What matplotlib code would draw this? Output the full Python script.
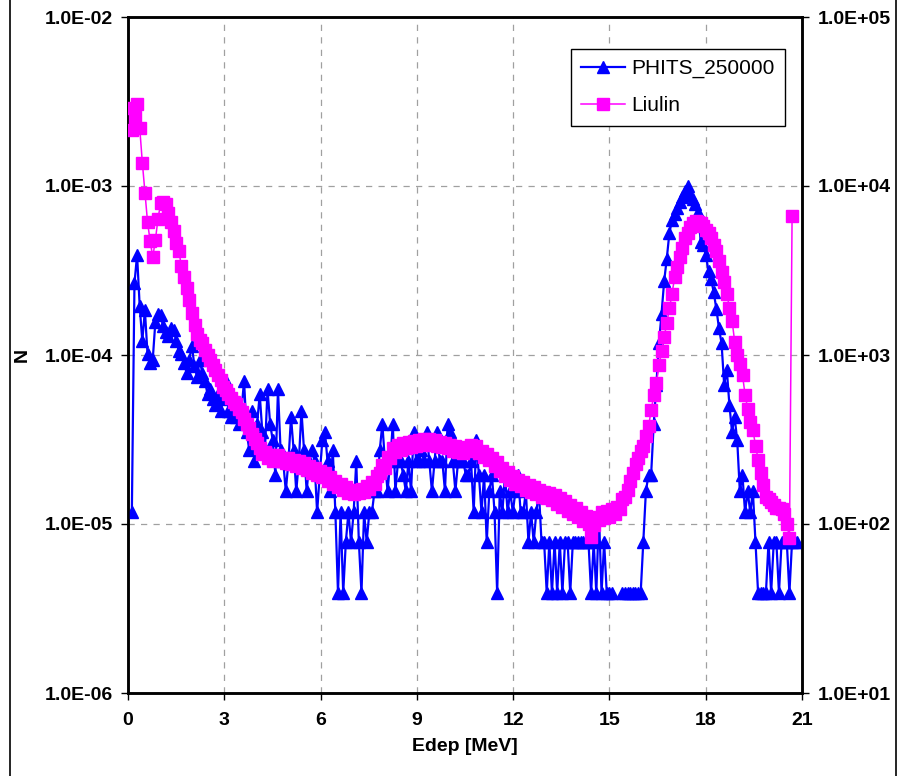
import numpy as np
import matplotlib.pyplot as plt
from matplotlib.lines import Line2D

plt.rcParams['font.family'] = ['Liberation Sans', 'DejaVu Sans']

# PHITS_250000: counts per 0.0813 MeV bin, N = counts / 256000
phits_counts = [
    3, 68, 100, 50, 31, 47, 26, 23, 24, 40,
    45, 44, 38, 35, 33, 37, 36, 31, 27, 26,
    23, 20, 24, 29, 22, 19, 24, 20, 18, 15,
    16, 14, 13, 15, 12, 14, 18, 12, 11, 13,
    11, 10, 12, 18, 9, 7, 12, 6, 10, 15,
    9, 7, 16, 10, 8, 5, 16, 7, 6, 4,
    6, 11, 7, 4, 6, 12, 7, 4, 6, 7,
    6, 3, 5, 8, 9, 6, 4, 7, 3, 1,
    3, 1, 2, 3, 2, 3, 6, 2, 1, 3,
    2, 3, 3, 4, 4, 7, 10, 6, 4, 6,
    10, 4, 6, 6, 5, 4, 6, 4, 9, 6,
    6, 7, 6, 9, 6, 4, 6, 9, 6, 6,
    4, 10, 9, 6, 4, 6, 6, 6, 5, 5,
    6, 3, 8, 5, 3, 5, 2, 4, 5, 3,
    1, 4, 3, 5, 3, 4, 3, 4, 5, 3,
    3, 4, 2, 3, 2, 3, 4, 2, 2, 1,
    2, 1, 2, 1, 2, 1, 2, 2, 1, 2,
    2, 2, 2, 2, 2, 2, 1, 2, 1, 3,
    1, 2, 1, 1, 1, 0, 0, 0, 1, 1,
    1, 1, 1, 1, 1, 1, 2, 4, 5, 5,
    10, 17, 30, 45, 70, 95, 135, 160, 175, 190,
    205, 220, 240, 256, 225, 215, 200, 180, 120, 115,
    100, 80, 72, 60, 48, 37, 30, 17, 21, 13,
    9, 11, 8, 4, 5, 3, 4, 3, 4, 2,
    1, 1, 1, 1, 2, 1, 2, 2, 1, 2,
    2, 2, 1, 2, 2, 2,
]
phits_norm = 256000.0

# Liulin: counts per channel (right axis)
liulin_counts = [
    29000, 21500, 25500, 30500, 22000, 13700, 9100, 6100, 4700, 3800,
    4800, 6400, 7900, 8000, 7800, 6900, 6150, 5400, 4600, 4100,
    3350, 2900, 2480, 2120, 1770, 1510, 1340, 1230, 1170, 1070,
    1000, 930, 870, 810, 760, 710, 650, 620, 590, 560,
    530, 510, 480, 460, 420, 390, 370, 340, 320, 300,
    280, 260, 265, 245, 255, 235, 250, 255, 235, 245,
    230, 245, 225, 240, 220, 235, 215, 230, 210, 220,
    200, 215, 195, 205, 190, 200, 180, 190, 172, 180,
    165, 172, 158, 165, 152, 160, 150, 158, 152, 162,
    155, 168, 162, 178, 172, 192, 200, 222, 215, 250,
    245, 280, 265, 292, 275, 300, 280, 305, 285, 310,
    290, 315, 295, 318, 300, 320, 295, 312, 290, 305,
    285, 300, 280, 295, 272, 290, 268, 285, 262, 280,
    272, 295, 278, 290, 262, 270, 248, 258, 238, 245,
    220, 232, 205, 215, 192, 202, 182, 192, 172, 182,
    168, 178, 160, 170, 155, 165, 150, 160, 145, 155,
    142, 152, 138, 148, 132, 142, 126, 136, 120, 130,
    115, 124, 110, 118, 104, 112, 100, 84, 98, 110,
    105, 118, 108, 120, 110, 122, 115, 126, 122, 140,
    145, 160, 180, 200, 225, 245, 270, 290, 330, 380,
    470, 580, 680, 870, 1050, 1280, 1550, 1900, 2300, 2900,
    3300, 3800, 4300, 4900, 5300, 5700, 6000, 6200, 6150, 6000,
    5800, 5500, 5300, 4900, 4500, 4100, 3600, 3100, 2700, 2300,
    1900, 1600, 1200, 1000, 880, 760, 580, 480, 400, 360,
    290, 240, 200, 170, 145, 140, 135, 130, 125, 125,
    122, 115, 100, 83, 6600,
]

bin_width = 0.0813  # MeV
phits_e = 0.12 + bin_width * np.arange(len(phits_counts))
liulin_e = bin_width * (np.arange(len(liulin_counts)) + 0.5)

phits_n = np.array(phits_counts, dtype=float) / phits_norm
phits_n[phits_n == 0] = np.nan

x_ticks = [0, 3, 6, 9, 12, 15, 18, 21]
left_ticks = [1e-6, 1e-5, 1e-4, 1e-3, 1e-2]
left_labels = ['1.0E-06', '1.0E-05', '1.0E-04', '1.0E-03', '1.0E-02']
right_ticks = [1e1, 1e2, 1e3, 1e4, 1e5]
right_labels = ['1.0E+01', '1.0E+02', '1.0E+03', '1.0E+04', '1.0E+05']

fig = plt.figure(figsize=(8.99, 7.76), dpi=100)
ax = fig.add_axes([128 / 899, 1 - 693 / 776, 674 / 899, 676 / 776])
ax2 = ax.twinx()

blue = '#0000FF'
pink = '#FF00FF'

ax.plot(phits_e, phits_n, color=blue, lw=1.6, marker='^', ms=9,
        mec=blue, mfc=blue, zorder=3)
ax2.plot(liulin_e, liulin_counts, color=pink, lw=1.1, marker='s', ms=8,
         mec=pink, mfc=pink, zorder=3)

ax.set_yscale('log')
ax2.set_yscale('log')
ax.set_xlim(0, 21)
ax.set_ylim(1e-6, 1e-2)
ax2.set_ylim(1e1, 1e5)

ax.set_xticks(x_ticks)
ax.set_xticklabels([str(t) for t in x_ticks])
ax.set_yticks(left_ticks)
ax.set_yticklabels(left_labels)
ax.yaxis.set_minor_locator(plt.NullLocator())
ax2.set_yticks(right_ticks)
ax2.set_yticklabels(right_labels)
ax2.yaxis.set_minor_locator(plt.NullLocator())

ax.grid(True, which='major', color='#a0a0a0', linestyle=(0, (5, 5)), lw=0.9)
ax.set_axisbelow(True)

ax.tick_params(axis='x', direction='out', length=5, width=1, pad=9,
               labelsize=14)
ax.tick_params(axis='y', direction='out', length=5, width=1, pad=6,
               labelsize=14)
ax2.tick_params(axis='y', direction='out', length=5, width=1, pad=6,
                labelsize=14)
for lab in ax.get_xticklabels() + ax.get_yticklabels() + ax2.get_yticklabels():
    lab.set_fontweight('bold')

for a in (ax, ax2):
    for sp in a.spines.values():
        sp.set_linewidth(1.8)
        sp.set_color('black')

ax.set_xlabel('Edep [MeV]', fontsize=14, fontweight='bold')
ax.xaxis.set_label_coords(0.5, -0.067)
ax.set_ylabel('N', fontsize=14, fontweight='bold')
ax.yaxis.set_label_coords(-0.145, 0.5)

handles = [
    Line2D([], [], color=blue, lw=1.6, marker='^', ms=9, mfc=blue, mec=blue),
    Line2D([], [], color=pink, lw=1.1, marker='s', ms=8, mfc=pink, mec=pink),
]
leg = ax2.legend(handles, ['PHITS_250000', 'Liulin'], loc='upper left',
                 bbox_to_anchor=(0.657, 0.953), borderaxespad=0,
                 fontsize=15, frameon=True, fancybox=False,
                 edgecolor='black', framealpha=1, handlelength=2.1,
                 handletextpad=0.3, borderpad=0.5, labelspacing=0.85)
leg.get_frame().set_linewidth(1.0)

# outer frame sides
fig.add_artist(Line2D([10 / 899, 10 / 899], [0, 1], color='black', lw=1.2))
fig.add_artist(Line2D([896 / 899, 896 / 899], [0, 1], color='black', lw=1.2))

fig.savefig('out.png', dpi=100)
